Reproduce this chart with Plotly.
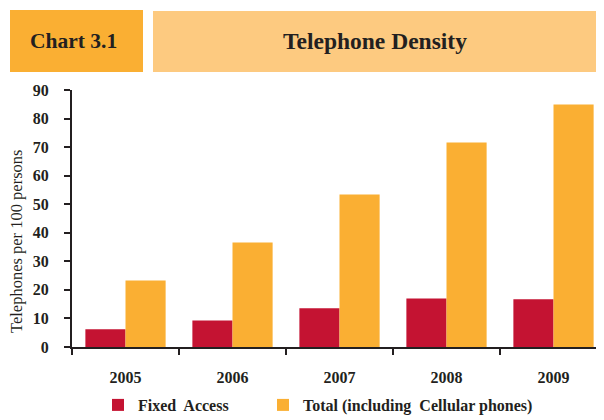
import plotly.graph_objects as go

years = ["2005", "2006", "2007", "2008", "2009"]
fixed_access = [6.2, 9.3, 13.6, 17.0, 16.7]
total_incl_cellular = [23.3, 36.6, 53.4, 71.6, 84.9]
y_ticks = [0, 10, 20, 30, 40, 50, 60, 70, 80, 90]

OFF = 8  # page body margin
W, H = 604 - OFF, 420 - OFF
ML, MR, MT, MB = 72 - OFF, 0, 90 - OFF, 73
PW, PH = W - ML - MR, H - MT - MB

def px_x(p):
    # window pixel -> paper x
    return (p - OFF - ML) / PW

def px_y(p):
    # window pixel -> paper y
    return (H - MB - (p - OFF)) / PH

RED = "#C41332"
ORANGE = "#FAAF33"
LIGHT = "#FDCA80"
INK = "#231F20"
SERIF = "Liberation Serif"
LEG_FONT = dict(family=SERIF, size=16, color=INK, weight="bold")

fig = go.Figure()
fig.add_trace(go.Bar(x=years, y=fixed_access, name="Fixed\u00a0 Access",
                     marker=dict(color=RED, line=dict(width=0)), legend="legend"))
fig.add_trace(go.Bar(x=years, y=total_incl_cellular,
                     name="Total (including\u00a0 Cellular phones)",
                     marker=dict(color=ORANGE, line=dict(width=0)), legend="legend2"))

fig.update_layout(
    width=W, height=H,
    margin=dict(l=ML, r=MR, t=MT, b=MB, autoexpand=False),
    paper_bgcolor="white", plot_bgcolor="white",
    barmode="group", bargap=0.25, bargroupgap=0,
    font=dict(family=SERIF, color=INK),
    showlegend=True,
    legend=dict(orientation="h", x=px_x(98), y=px_y(388), xanchor="left", yanchor="top",
                font=LEG_FONT, itemwidth=30, bgcolor="rgba(0,0,0,0)"),
    legend2=dict(orientation="h", x=px_x(263), y=px_y(388), xanchor="left", yanchor="top",
                 font=LEG_FONT, itemwidth=30, bgcolor="rgba(0,0,0,0)"),
    xaxis=dict(type="category", range=[-0.5, -0.5 + PW / 107.0],
               showline=True, linecolor=INK, linewidth=2,
               ticks="outside", tickson="boundaries", ticklen=6, tickwidth=2, tickcolor=INK,
               tickfont=dict(family=SERIF, size=16, color=INK, weight="bold"),
               ticklabelstandoff=15, showgrid=False, zeroline=False, fixedrange=True),
    yaxis=dict(range=[0, 90], tickvals=y_ticks,
               showline=True, linecolor=INK, linewidth=2,
               ticks="outside", ticklen=6, tickwidth=2, tickcolor=INK,
               tickfont=dict(family=SERIF, size=16, color=INK, weight="bold"),
               ticklabelstandoff=12, showgrid=False, zeroline=False, fixedrange=True),
)

# header boxes
fig.add_shape(type="rect", xref="paper", yref="paper",
              x0=px_x(10), x1=px_x(143), y0=px_y(72), y1=px_y(10),
              fillcolor=ORANGE, line=dict(width=0), layer="below")
fig.add_shape(type="rect", xref="paper", yref="paper",
              x0=px_x(153), x1=px_x(604), y0=px_y(72), y1=px_y(11),
              fillcolor=LIGHT, line=dict(width=0), layer="below")
fig.add_annotation(xref="paper", yref="paper", x=px_x(73), y=px_y(41),
                   text="Chart 3.1", showarrow=False, xanchor="center", yanchor="middle",
                   font=dict(family=SERIF, size=21.5, color=INK, weight="bold"))
fig.add_annotation(xref="paper", yref="paper", x=px_x(375), y=px_y(41),
                   text="Telephone Density", showarrow=False, xanchor="center", yanchor="middle",
                   font=dict(family=SERIF, size=23.5, color=INK, weight="bold"))
# y-axis title
fig.add_annotation(xref="paper", yref="paper", x=px_x(16), y=px_y(241),
                   text="Telephones per 100 persons", showarrow=False, textangle=-90,
                   xanchor="center", yanchor="middle",
                   font=dict(family=SERIF, size=16.5, color=INK))

fig.write_html("out.html")
